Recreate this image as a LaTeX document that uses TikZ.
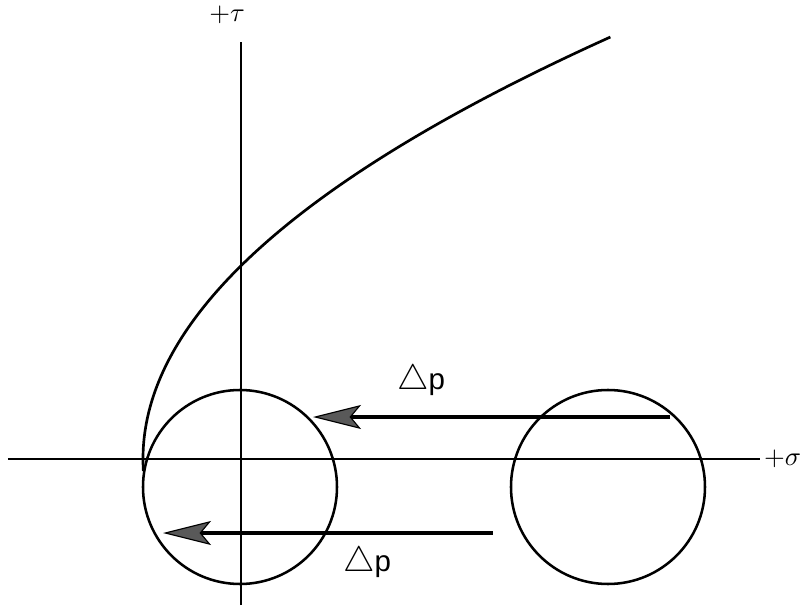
\documentclass[tikz,border=0pt]{standalone}
\usepackage{fontspec}
\newfontfamily\labelfont{Liberation Sans}
\usetikzlibrary{arrows.meta}

\begin{document}
\begin{tikzpicture}[line width=2pt,
    push/.style={line width=2.4pt, -{Stealth[length=1.2cm, width=0.6cm, inset=0.25cm, fill=black!65, line width=0.8pt]}},
    dplabel/.style={font=\labelfont, scale=2.1},
    axlabel/.style={scale=1.9}]
  \useasboundingbox (-6.025,-3.7) rectangle (14.025,11.475);
  % axes
  \coordinate (sigmaL) at (-5.825,0);
  \coordinate (sigmaR) at (12.975,0);
  \coordinate (tauB) at (0,-3.65);
  \coordinate (tauT) at (0,10.425);
  \draw (sigmaL) -- (sigmaR);
  \draw (tauB) -- (tauT);
  \node[axlabel, right, inner sep=0.5pt] (sigma) at (sigmaR) {$+\sigma$};
  \node[axlabel] (tau) at (-0.35,11.1) {$+\tau$};
  % Mohr circles
  \node[draw, circle, minimum size=4.85cm, inner sep=0pt, line width=1.8pt] (cA) at (-0.025,-0.7) {};
  \node[draw, circle, minimum size=4.85cm, inner sep=0pt, line width=1.8pt] (cB) at (9.175,-0.7) {};
  % failure envelope
  \draw[line width=1.9pt] plot[domain=-0.3:10.55, samples=80, smooth] ({-2.45+0.105*\x*\x},\x);
  % pore pressure shifts
  \coordinate (upS) at (10.725,1.05);
  \coordinate (upE) at (1.8,1.05);
  \coordinate (loS) at (6.3,-1.85);
  \coordinate (loE) at (-1.95,-1.85);
  \draw[push] (upS) -- (upE);
  \draw[push] (loS) -- (loE);
  \node[dplabel] (dpU) at (4.5,1.95) {{\large$\triangle$}p};
  \node[dplabel] (dpL) at (3.15,-2.6) {{\large$\triangle$}p};
\end{tikzpicture}
\end{document}
